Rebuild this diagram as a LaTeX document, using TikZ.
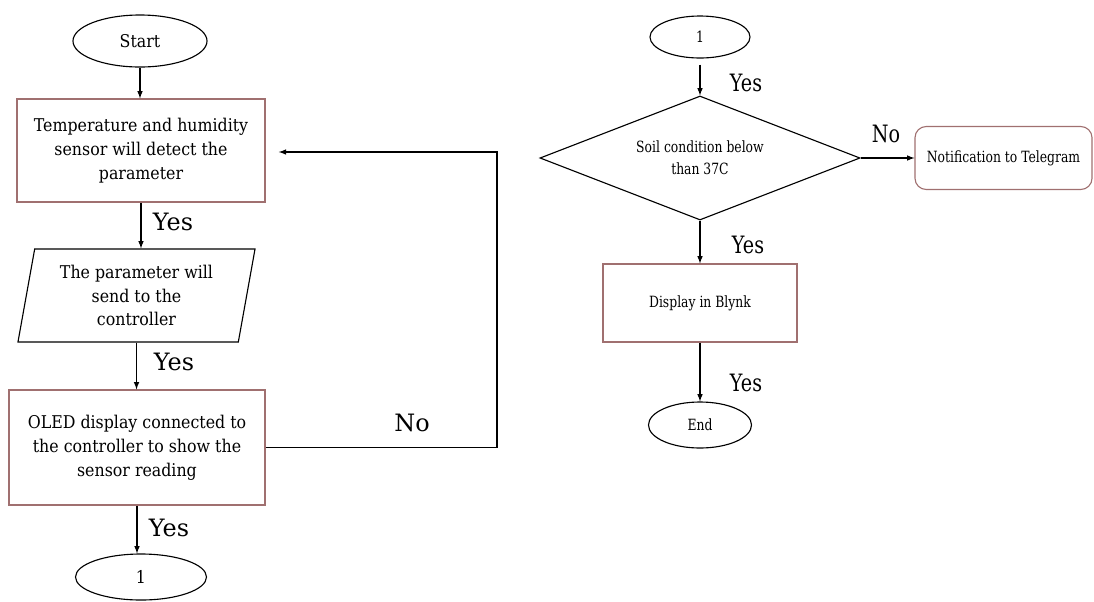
\documentclass[tikz,border=0pt]{standalone}
\usepackage{fontspec}
\setmainfont[FakeStretch=0.9]{DejaVu Serif}
\newfontfamily\narrowfont[FakeStretch=0.8]{DejaVu Serif}
\newfontfamily\labelfont{DejaVu Serif}
\usetikzlibrary{arrows,positioning,shapes.geometric}
\definecolor{boxline}{RGB}{160,112,112}

\begin{document}
\begin{tikzpicture}[x=0.025cm,y=-0.025cm,>=latex,line width=0.8pt,
  term/.style={draw,ellipse,inner sep=0pt},
  proc/.style={draw=boxline,rectangle,align=center,inner sep=2pt,font=\fontsize{12.5}{17}\selectfont},
  io/.style={draw,trapezium,trapezium left angle=76,trapezium right angle=104,
    trapezium stretches body,align=center,inner sep=2pt,font=\fontsize{12.5}{17}\selectfont},
  decide/.style={draw,diamond,aspect=2.58,align=center,inner sep=0pt},
  small/.style={font=\narrowfont\fontsize{11}{15.5}\selectfont},
  yes/.style={font=\labelfont\fontsize{17}{20}\selectfont},
  yesr/.style={font=\narrowfont\fontsize{17}{20}\selectfont},
  flow/.style={->}]
\useasboundingbox (0,0) rectangle (1094,601);

\node[term,minimum width=3.35cm,minimum height=1.3cm,font=\fontsize{12.5}{14}\selectfont] (start) at (140,41) {Start};
\node[proc,minimum width=6.2cm,minimum height=2.575cm] (temp) at (141,150.5)
  {Temperature and humidity\\ sensor will detect the\\ parameter};
\node[io,minimum width=5.925cm,minimum height=2.325cm] (send) at (136.5,295.5)
  {The parameter will\\ send to the\\ controller};
\node[proc,minimum width=6.4cm,minimum height=2.875cm] (oled) at (137,447.5)
  {OLED display connected to\\ the controller to show the\\ sensor reading};
\node[term,minimum width=3.275cm,minimum height=1.15cm,font=\fontsize{12.5}{14}\selectfont] (one) at (141,577) {1};

\node[yes] (yes1) at (173,222) {Yes};
\node[yes] (yes2) at (174,362) {Yes};
\node[yes] (yes3) at (169,528) {Yes};
\node[yes] (no1) at (412,423) {No};
\coordinate (loopc) at (497,152);

\draw[flow] (start.south) -- (start.south |- temp.north);
\draw[flow] (temp.south) -- (temp.south |- send.north);
\draw[flow] (send.south) -- (send.south |- oled.north);
\draw[flow] (oled.south) -- (oled.south |- one.north);
\draw[flow,shorten >=0.33cm] (oled.east) -| (loopc) -- (loopc -| temp.east);

\node[term,small,minimum width=2.5cm,minimum height=1.05cm] (onebis) at (700,37) {1};
\node[decide,small,minimum width=8cm,minimum height=3.1cm] (soil) at (700,158)
  {Soil condition below\\ than 37C};
\node[draw=boxline,rounded corners=8pt,small,minimum width=4.425cm,minimum height=1.575cm] (tele) at (1003.5,158)
  {Notification to Telegram};
\node[proc,small,minimum width=4.85cm,minimum height=1.95cm] (blynk) at (700,303) {Display in Blynk};
\node[term,small,minimum width=2.575cm,minimum height=1.15cm] (stop) at (700,425) {End};

\node[yesr] (yes4) at (746,83) {Yes};
\node[yesr] (no2) at (886,134) {No};
\node[yesr] (yes5) at (748,245) {Yes};
\node[yesr] (yes6) at (746,383) {Yes};

\draw[flow,shorten <=0.15cm] (onebis.south) -- (soil.north);
\draw[flow] (soil.east) -- (soil.east -| tele.west);
\draw[flow] (soil.south) -- (blynk.north);
\draw[flow] (blynk.south) -- (stop.north);
\end{tikzpicture}
\end{document}
